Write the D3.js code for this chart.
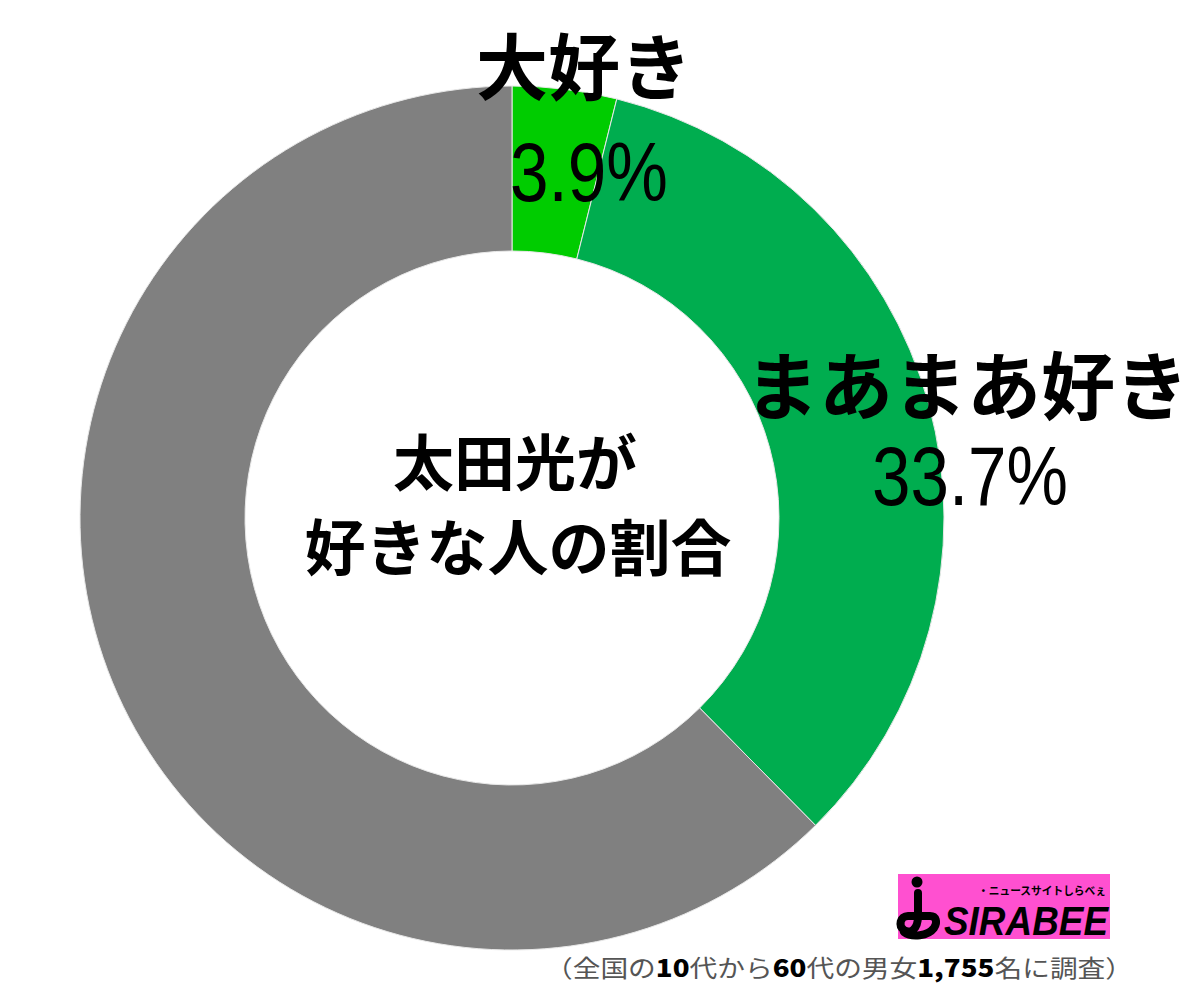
<!DOCTYPE html>
<html><head><meta charset="utf-8">
<script src="https://cdn.jsdelivr.net/npm/d3@7"></script>
<style>
html,body{margin:0;padding:0;background:#fff;}
svg{display:block;}
</style></head>
<body>
<script>
const categories = ["大好き", "まあまあ好き", "その他"];
const values = [3.9, 33.7, 62.4];
const colors = ["#00cc00", "#00ad4f", "#808080"];
const valueLabels = ["3.9%", "33.7%", ""];
const centerTitle = ["太田光が", "好きな人の割合"];
const footnoteParts = [
  {t:"（全国の", b:false}, {t:"10", b:true}, {t:"代から", b:false}, {t:"60", b:true},
  {t:"代の男女", b:false}, {t:"1,755", b:true}, {t:"名に調査）", b:false}
];

const W = 1200, H = 993;
const cx = 512, cy = 518, rOuter = 432, rInner = 267;
const jp = "'Noto Sans CJK JP','Noto Sans CJK SC',sans-serif";
const num = "'Liberation Sans',Arial,sans-serif";

const svg = d3.select("body").append("svg").attr("width", W).attr("height", H);

const data = categories.map((c,i)=>({cat:c, value:values[i], color:colors[i], label:valueLabels[i]}));
const pie = d3.pie().value(d=>d.value).sort(null).startAngle(0).endAngle(2*Math.PI);
const arc = d3.arc().innerRadius(rInner).outerRadius(rOuter);

const g = svg.append("g").attr("transform", `translate(${cx},${cy})`);
g.selectAll("path").data(pie(data)).join("path")
  .attr("d", arc)
  .attr("fill", d=>d.data.color)
  .attr("stroke", "#e8e8e8").attr("stroke-width", 1);

// labels (category + value), placed per reference layout
const labelLayout = [
  {cx:584, cy:62, fs:72, vx:589, vy:172, vw:158},
  {cx:967, cy:381, fs:74, vx:970, vy:476, vw:196}
];
labelLayout.forEach((p,i)=>{
  const d = data[i];
  svg.append("text").attr("x", p.cx).attr("y", p.cy)
    .attr("text-anchor","middle").attr("dominant-baseline","central")
    .attr("font-family", jp).attr("font-weight", 700).attr("font-size", p.fs)
    .attr("fill","#000").text(d.cat);
  svg.append("text").attr("x", p.vx).attr("y", p.vy + 29)
    .attr("text-anchor","middle")
    .attr("font-family", num).attr("font-weight", 400).attr("font-size", 83)
    .attr("textLength", p.vw).attr("lengthAdjust","spacingAndGlyphs")
    .attr("fill","#000").text(d.label);
});

// center title
[[515,459],[518,544]].forEach((p,i)=>{
  svg.append("text").attr("x", p[0]).attr("y", p[1])
    .attr("text-anchor","middle").attr("dominant-baseline","central")
    .attr("font-family", jp).attr("font-weight", 700).attr("font-size", 61)
    .attr("fill","#000").text(centerTitle[i]);
});

// logo
const logo = svg.append("g");
logo.append("rect").attr("x",898).attr("y",874).attr("width",212).attr("height",65).attr("fill","#ff50d0");
logo.append("circle").attr("cx",917).attr("cy",882).attr("r",5.5).attr("fill","#000");
logo.append("path")
  .attr("d","M918,893 L918,916 C918,930 910,934 904,930 C898,926 900,916 908,916 L930,916 C936,916 938,922 934,928 C928,936 912,938 904,932")
  .attr("fill","none").attr("stroke","#000").attr("stroke-width",8).attr("stroke-linecap","round");
logo.append("text").attr("x",944).attr("y",935)
  .attr("font-family", num).attr("font-weight",700).attr("font-style","italic").attr("font-size",40)
  .attr("textLength",164).attr("lengthAdjust","spacingAndGlyphs")
  .attr("fill","#000").text("SIRABEE");
logo.append("text").attr("x",978).attr("y",895)
  .attr("font-family", jp).attr("font-weight",700).attr("font-size",11)
  .attr("textLength",128).attr("lengthAdjust","spacingAndGlyphs")
  .attr("fill","#000").text("・ニュースサイトしらべぇ");

// footnote
const fn = svg.append("text").attr("x",545).attr("y",977)
  .attr("font-family", jp).attr("font-size",24).attr("fill","#555")
  .attr("textLength",588).attr("lengthAdjust","spacingAndGlyphs");
footnoteParts.forEach(p=>{
  fn.append("tspan").attr("font-weight", p.b?900:400).attr("fill", p.b?"#000":"#555")
    .attr("font-family", jp).text(p.t);
});
</script>
</body></html>
